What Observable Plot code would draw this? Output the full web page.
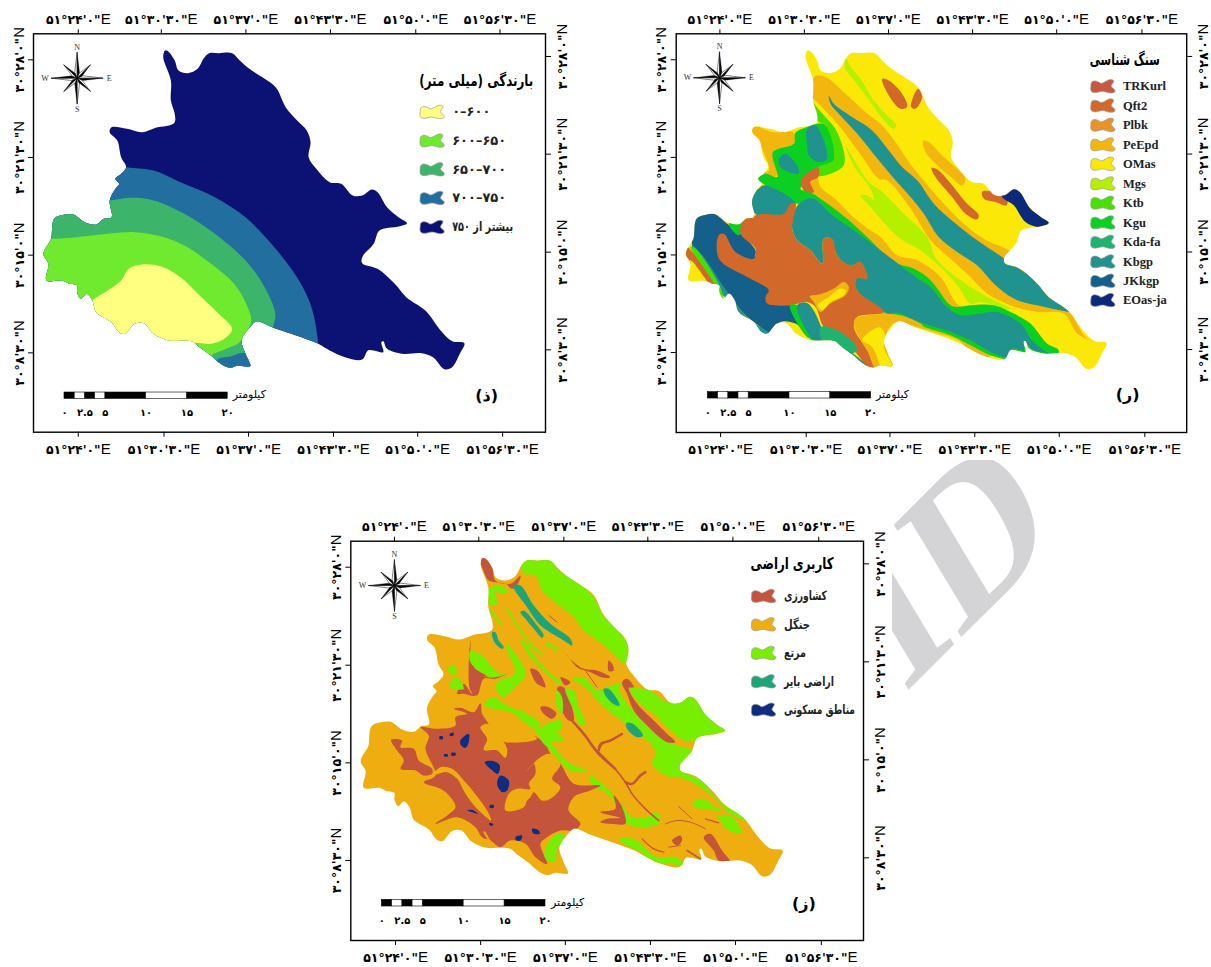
<!DOCTYPE html>
<html lang="fa"><head><meta charset="utf-8">
<script src="https://cdn.jsdelivr.net/npm/d3@7"></script>
<script src="https://cdn.jsdelivr.net/npm/@observablehq/plot@0.6"></script>
<style>
html,body{margin:0;padding:0;background:#fff;overflow:hidden}
#page{position:relative;width:1211px;height:967px;overflow:hidden}
#page>svg{position:absolute;z-index:1}
#mark{position:absolute;left:739px;top:630px;font:bold 200px "Liberation Serif";color:#d4d4d6;line-height:1;white-space:nowrap;transform-origin:0 0;transform:matrix(.707,-.707,.515,.857,0,0);z-index:0}
</style></head><body><div id="page"><div id="mark">SID</div></div>
<script>
// ---- graticule labels
const lonLabels=['۵۱°۲۴\'۰"E','۵۱°۳۰\'۳۰"E','۵۱°۳۷\'۰"E','۵۱°۴۳\'۳۰"E','۵۱°۵۰\'۰"E','۵۱°۵۶\'۳۰"E'];
const latLabels=['۳۰°۲۸\'۰"N','۳۰°۲۱\'۳۰"N','۳۰°۱۵\'۰"N','۳۰°۸\'۳۰"N'];
const kmBlack=[[0,1.25],[2.5,3.75],[5,10],[15,20]];
const kmWhite=[[1.25,2.5],[3.75,5],[10,15]];
const kmTicks=[0,2.5,5,10,15,20];
const kmLabels=['۰','۲.۵','۵','۱۰','۱۵','۲۰'];
const kmPerDegree=96;
const persianWidths={'بارندگی (میلی متر)':114,'سنگ شناسی':70,'کاربری اراضی':83,'کشاورزی':43,'جنگل':26,'مرتع':22,'اراضی بایر':50,'مناطق مسکونی':71,'بیشتر از ۷۵۰':61};

// ---- catchment outline, digitised positions on the first map
const outline=[430,150,440,155,455,180,465,210,490,218,515,205,530,175,545,158,570,158,605,158,625,180,650,205,690,235,720,262,745,320,775,360,800,390,810,425,805,470,825,505,860,545,890,550,920,585,945,585,970,567,985,575,1010,620,1040,650,1062,668,1040,678,990,690,975,730,945,770,945,788,985,805,1030,850,1060,890,1110,930,1150,990,1180,1022,1212,1028,1200,1060,1180,1100,1160,1106,1130,1070,1100,1058,1050,1060,1010,1045,1000,1022,995,1025,1000,1055,975,1050,960,1050,945,1077,900,1070,860,1050,830,1030,760,1000,710,980,670,962,655,975,630,1020,640,1060,652,1097,620,1095,600,1102,575,1090,550,1065,520,1040,500,1022,470,1020,440,1020,400,1000,375,968,350,970,325,1000,310,995,290,965,250,935,240,900,225,880,210,895,200,875,200,855,180,850,160,840,120,840,125,790,112,760,130,720,133,710,140,655,165,643,190,642,220,665,250,672,270,655,290,650,285,600,300,565,310,550,300,535,315,520,328,500,315,470,305,420,285,395,290,380,330,385,370,395,410,380,440,375,455,365,455,340,445,300,445,240,425,170];

// ---- rainfall classes
const rainClasses=['۰–۶۰۰','۶۰۰–۶۵۰','۶۵۰–۷۰۰','۷۰۰–۷۵۰','بیشتر از ۷۵۰'];
const rainColors=['#ffff80','#70ea2f','#3cb56b','#226e9f','#0c1274'];
const rainZones=[
 ['۷۰۰–۷۵۰',[328,500,400,510,470,545,560,590,640,650,700,720,750,790,790,860,815,930,830,1030,835,1160,100,1160,40,700,250,490]],
 ['۶۵۰–۷۰۰',[240,600,285,600,340,592,400,600,480,640,560,700,640,780,690,860,718,940,712,985,712,1160,100,1160,40,640]],
 ['۶۰۰–۶۵۰',[40,715,133,715,200,710,280,700,350,695,420,708,480,735,550,790,610,850,640,905,655,960,640,1000,625,1025,590,1045,550,1065,500,1120,60,1010]],
 ['۷۰۰–۷۵۰',[565,1078,600,1068,640,1058,680,1120,560,1130]],
 ['۰–۶۰۰',[240,900,280,870,315,840,335,805,370,792,420,798,470,830,520,885,570,940,605,985,590,1010,550,1030,500,1028,440,1060,300,1060,200,960]]
];

// ---- rock units (N, E, W: digitised north, east and west parts of the second map)
const rockClasses=['TRKurl','Qft2','Plbk','PeEpd','OMas','Mgs','Ktb','Kgu','Kda-fa','Kbgp','JKkgp','EOas-ja'];
const rockColors=['#c8583f','#d2692b','#e8922a','#f2b60f','#fbe806','#b4f000','#48e000','#0ccf24','#1fb36f','#21938f','#14608a','#0b2a7c'];
const rockZones=[
 ['PeEpd',[195,130,210,92,240,95,300,145,360,200,410,240,450,290,490,350,530,400,590,470,655,535,715,580,800,620,900,700,1010,780,985,800,1020,875,1045,890,995,865,955,805,875,800,795,780,725,745,675,695,620,645,555,585,515,520,485,475,425,405,400,400,340,320,280,240,225,180,200,155],'N'],
 ['Kbgp',[250,150,265,175,320,215,380,255,430,315,470,365,515,405,565,475,625,530,695,585,770,635,850,690,1010,790,995,800,875,780,805,760,745,715,695,660,635,620,580,575,535,505,495,455,450,405,400,345,340,270,280,205,255,175],'N'],
 ['Mgs',[300,300,330,350,370,410,405,435,475,505,545,575,575,645,645,705,725,755,795,790,790,792,705,770,675,775,640,725,595,675,525,615,465,580,405,520,370,480,345,450,365,450,385,465,375,430,330,370,310,330],'N'],
 ['Mgs',[300,40,320,70,345,100,385,165,420,205,452,240,445,250,415,225,375,170,330,110,300,70],'N'],
 ['Qft2',[410,100,430,105,470,145,485,185,465,190,430,150],'N'],
 ['Qft2',[518,130,530,155,510,190,497,185,505,150],'N'],
 ['PeEpd',[533,285,550,290,590,330,640,375,660,400,650,420,610,390,565,350,540,320],'N'],
 ['Qft2',[558,368,575,372,620,420,660,470,700,510,695,522,660,505,620,455,570,395],'N'],
 ['Qft2',[305,35,325,32,380,55,378,75,345,65,310,55],'E'],
 ['EOas-ja',[365,48,400,24,425,40,450,85,505,125,490,140,470,140,435,125,400,75],'E'],
 ['PeEpd',[195,415,215,395,225,425,270,462,320,512,370,552,405,575,455,630,515,645,585,695,640,780,685,785,640,800,500,700,400,640,300,540,200,450],'N'],
 ['PeEpd',[20,255,30,243,80,260,145,262,145,295,85,318,95,390,70,395,55,385,70,375,50,310],'N'],
 ['Ktb',[198,158,210,180,240,215,275,260,295,360,215,392,220,365,265,345,240,240,215,225],'N'],
 ['Kgu',[38,400,60,385,95,395,82,320,145,295,150,262,185,245,215,235,240,240,265,345,220,365,215,385,165,430,190,445,200,460,150,475,120,455,60,420],'N'],
 ['Kbgp',[185,250,210,240,245,340,220,350,190,330,185,300],'N'],
 ['Kbgp',[100,340,120,325,160,370,160,385,130,380,105,365],'N'],
 ['Qft2',[165,410,190,380,220,368,218,395,195,410,205,440,180,440],'N'],
 ['Kbgp',[20,470,45,425,60,420,150,475,130,500,60,520,25,500],'N'],
 ['Kbgp',[225,0,270,0,330,40,310,75,240,75,215,40],'W'],
 ['PeEpd',[0,395,50,405,130,440,210,458,280,492,335,525,290,530,230,478,170,458,100,438,55,425,0,440],'E'],
 ['Kgu',[330,0,385,5,420,25,500,85,560,140,640,215,700,235,750,270,810,345,830,350,870,345,940,345,1000,370,1050,400,1100,460,1135,480,1130,495,1000,510,930,495,870,465,810,435,730,410,660,385,610,365,530,300,420,100],'W'],
 ['Kbgp',[345,55,370,30,400,25,450,70,520,120,600,180,720,270,750,290,800,350,840,375,900,370,950,365,1020,400,1055,450,1100,485,1130,490,1060,480,1030,450,1030,480,995,475,980,500,940,490,870,450,810,425,730,400,690,385,660,370,610,365,530,300,530,265,560,265,540,215,510,225,470,195,455,145,430,145,425,220,390,180,350,150,335,115],'W'],
 ['JKkgp',[45,85,60,72,100,70,140,100,180,130,225,180,225,200,260,290,330,345,370,420,345,400,300,395,270,430,240,410,190,370,150,320,120,290,70,230,35,165],'W'],
 ['Kbgp',[35,165,70,200,130,290,200,380,280,440,240,440,170,360,115,300,40,190],'W'],
 ['Ktb',[30,170,45,175,125,305,125,325,105,300,50,210],'W'],
 ['Qft2',[20,170,35,185,115,310,110,318,55,260,15,195],'W'],
 ['OMas',[28,210,60,245,85,290,20,280],'W'],
 ['Kgu',[145,100,190,90,175,135],'W'],
 ['Qft2',[190,90,240,72,310,70,330,40,345,40,335,115,350,150,390,180,425,220,430,145,455,145,470,195,510,225,540,215,560,265,530,265,530,300,610,365,530,380,520,410,560,480,590,535,570,535,510,470,430,410,405,350,380,335,330,345,260,340,255,320,265,300,200,260,115,205,115,135,130,130,165,185,220,205,225,175,180,130],'W'],
 ['Kgu',[328,345,350,345,400,450,375,435],'W'],
 ['Kbgp',[350,345,380,338,420,405,425,452,400,450],'W'],
 ['Kda-fa',[420,410,470,420,530,475,515,490,460,455,425,450],'W'],
 ['Kbgp',[425,450,515,488,570,540,540,535,470,480],'W'],
 ['PeEpd',[388,318,420,312,460,295,490,275,505,290,495,315,450,340,420,365,400,335],'W'],
 ['OMas',[412,345,445,320,480,295,495,300,490,315,450,335,425,360],'W'],
 ['PeEpd',[525,385,600,372,660,375,720,400,730,410,650,390,612,450,640,540,590,540,560,480,522,410],'W'],
 ['OMas',[575,420,600,412,615,440,610,470,640,540,610,540,575,470,545,450],'W']
];

// ---- land use (A, B, C: digitised south-west, north and south-east parts of the third map)
const landClasses=['کشاورزی','جنگل','مرتع','اراضی بایر','مناطق مسکونی'];
const landColors=['#c4553b','#eeae10','#78ee00','#1ea577','#0e2d80'];
const landZones=[
 ['مرتع',[150,45,170,20,200,30,240,20,265,60,320,95,370,140,395,190,440,240,480,290,465,340,440,320,395,280,340,240,310,200,260,160,215,120,195,75,165,70],'B'],
 ['مرتع',[305,385,345,385,380,420,440,400,490,410,540,420,590,455,650,440,680,455,730,520,725,560,670,570,665,610,630,655,600,680,555,640,555,600,480,530,400,470,345,410],'B'],
 ['مرتع',[290,45,330,60,410,150,360,160,320,175,305,200,265,262,185,250,200,220,250,190,290,130],'C'],
 ['مرتع',[185,250,265,262,290,280,340,305,365,340,410,375,475,405,470,420,420,400,380,360,330,320,280,295,210,275],'C'],
 ['جنگل',[445,410,465,400,490,440,520,470,550,490,590,530,640,570,672,572,670,592,620,585,570,550,520,510,480,470],'B'],
 ['مرتع',[0,285,30,305,70,345,100,380,125,410,170,410,195,395,210,410,205,430,165,440,110,430,95,400,50,340,20,320,0,305],'C'],
 ['کشاورزی',[180,200,230,205,285,195,285,170,320,160,280,145,300,142,340,155,360,128,365,160,385,195,360,200,440,245,530,235,520,225,555,250,570,280,600,310,640,370,720,375,690,390,640,410,625,450,660,490,640,510,600,510,560,530,540,550,560,610,525,590,495,550,450,540,420,560,390,540,365,530,345,500,290,470,225,490,260,465,285,440,270,410,240,385,190,365,225,345,195,265,205,225],'A'],
 ['کشاورزی',[92,238,125,240,120,260,160,265,175,300,215,325,215,340,190,345,165,330,120,325,130,300,110,270],'A'],
 ['جنگل',[215,345,240,320,275,325,310,360,340,395,380,450,392,480,350,445,315,400,290,355,260,335,235,340],'A'],
 ['جنگل',[360,200,380,235,370,268,410,270,435,292,440,265,415,218,435,245,445,245,385,190],'A'],
 ['جنگل',[495,335,520,310,525,340,505,370,510,385,470,385,445,400,435,450,490,440,500,420,510,410,520,395,545,420,570,415,600,380,575,355,600,310,570,280,540,290],'A'],
 ['جنگل',[625,450,640,410,690,395,720,390,720,470,690,485,670,465,680,430,660,430],'A'],
 ['کشاورزی',[30,30,40,18,65,50,75,90,120,100,150,75,145,95,125,115,105,100,75,95,55,90,35,50],'B'],
 ['کشاورزی',[0,270,5,335,35,375,75,380,110,370,75,385,40,385,20,435,0,420],'B'],
 ['کشاورزی',[290,100,310,70,335,100,340,60,330,25,365,35,380,45,440,40,395,50,365,50,345,105,310,100],'A'],
 ['کشاورزی',[275,300,310,335,340,355,380,360,420,380,400,382,360,365,320,350,295,320],'B'],
 ['کشاورزی',[415,330,425,340,430,360,415,362],'B'],
 ['کشاورزی',[180,355,200,360,215,380,225,410,200,400,185,375],'B'],
 ['کشاورزی',[270,380,300,395,285,405],'B'],
 ['کشاورزی',[210,470,235,470,258,490,245,505,220,490],'B'],
 ['کشاورزی',[262,410,280,410,310,510,295,510,270,470],'B'],
 ['کشاورزی',[455,395,470,385,490,410,475,412,500,460,550,510,590,550,615,575,590,575,530,525,490,480,470,430],'B'],
 ['کشاورزی',[340,470,360,460,395,510,420,545,385,540,370,510],'C'],
 ['کشاورزی',[245,480,270,465,275,480,260,495],'C'],
 ['کشاورزی',[70,345,90,370,105,410,105,430,60,430,30,425,50,415,90,412,30,395,75,385],'C'],
 ['مرتع',[55,115,85,105,115,125,100,130,75,125,80,160,65,165,50,150],'B'],
 ['مرتع',[110,280,135,310,165,370,130,415,95,440,75,400,120,385,135,360,110,300],'B'],
 ['مرتع',[0,300,40,320,65,350,90,375,40,370,0,335],'B'],
 ['مرتع',[45,455,70,440,100,460,140,480,185,505,210,530,215,555,190,525,130,490,80,465],'B'],
 ['مرتع',[215,530,270,510,275,530,240,560,260,600,300,640,350,660,300,660,240,600,210,565],'B'],
 ['مرتع',[285,415,310,420,325,470,345,520,330,525,310,480],'B'],
 ['مرتع',[260,420,275,440,275,490,260,470],'B'],
 ['مرتع',[260,25,285,15,285,45,270,40],'A'],
 ['مرتع',[265,75,290,50,310,85,280,85],'A'],
 ['مرتع',[405,75,430,55,460,45,480,5,495,40,470,70,430,110,420,95],'A'],
 ['مرتع',[330,0,370,20,380,40,440,40,385,50,355,20],'A'],
 ['مرتع',[370,130,410,125,450,145,480,150,540,190,515,200,460,160,430,150,380,140],'A'],
 ['مرتع',[520,205,550,205,570,185,600,180,590,210,610,240,560,240,530,220],'A'],
 ['مرتع',[555,565,590,520,620,530,590,565,585,605,555,595],'A'],
 ['مرتع',[310,360,345,358,375,380,390,380,385,392,350,385,310,380],'C'],
 ['مرتع',[380,410,420,405,455,460,400,440,395,425],'C'],
 ['مرتع',[85,475,130,475,165,505,200,530,260,530,280,555,240,550,190,545,150,515,100,490],'C'],
 ['اراضی بایر',[128,105,150,105,190,165,240,220,300,265,305,285,280,270,255,255,210,225,170,170],'B'],
 ['اراضی بایر',[150,185,160,180,200,225,220,255,215,262,190,235,165,205],'B'],
 ['اراضی بایر',[65,245,75,245,85,270,100,290,95,295,72,275],'B'],
 ['اراضی بایر',[400,415,415,415,448,465,432,462,405,435],'B'],
 ['اراضی بایر',[467,518,485,518,518,555,500,560,470,535],'B'],
 ['مناطق مسکونی',[300,240,325,220,325,245,315,262,302,255],'A'],
 ['مناطق مسکونی',[373,305,400,302,418,315,412,340,390,325],'A'],
 ['مناطق مسکونی',[410,370,420,345,445,360,440,390,425,395],'A'],
 ['مناطق مسکونی',[237,228,247,228,247,236,237,236],'A'],
 ['مناطق مسکونی',[268,220,280,217,278,226,268,226],'A'],
 ['مناطق مسکونی',[250,282,262,282,262,288,252,288],'A'],
 ['مناطق مسکونی',[273,277,285,277,285,285,273,285],'A'],
 ['مناطق مسکونی',[320,450,335,448,352,460,335,455],'A'],
 ['مناطق مسکونی',[388,434,400,434,400,442,388,442],'A'],
 ['مناطق مسکونی',[386,488,398,490,396,496,388,494],'A'],
 ['مناطق مسکونی',[465,530,485,525,480,540,468,540],'A'],
 ['مناطق مسکونی',[515,505,535,510,538,520,518,518],'A']
];
const landStreams=[
 ['مرتع',2,[110,175,150,240,190,290,215,310],'B'],
 ['مرتع',3,[155,270,185,320,230,365,270,400],'B'],
 ['مرتع',1.5,[170,280,205,340,250,385],'B'],
 ['مرتع',3,[230,280,260,295],'B'],
 ['مرتع',2,[60,180,90,220],'B'],
 ['جنگل',2,[372,515,395,555],'A'],
 ['کشاورزی',2.5,[295,500,340,550,385,610,435,655],'B'],
 ['کشاورزی',2,[385,600,390,580,420,570,455,550],'B'],
 ['کشاورزی',1,[345,360,380,410],'B'],
 ['کشاورزی',1,[235,195,260,215],'B'],
 ['کشاورزی',1.6,[0,190,30,220,70,260,105,305,125,340,165,385,205,420],'C'],
 ['کشاورزی',2,[25,210,35,190,60,180,95,160],'C'],
 ['کشاورزی',2.5,[105,305,125,310,150,285,165,275],'C'],
 ['کشاورزی',1,[225,430,260,420,300,425,345,445],'C'],
 ['کشاورزی',1,[265,378,305,415],'C'],
 ['کشاورزی',1.2,[345,415,385,427],'C'],
 ['کشاورزی',1.3,[155,475,190,505,220,515],'C'],
 ['کشاورزی',1,[235,500,270,495],'C'],
 ['کشاورزی',1.6,[290,510,330,535],'C']
];

// ---- placing the digitised positions on the graticule
const STEP=6.5/60, LON0=51.4, LAT0=30+28/60;
const cal=(x0,dx,y0,dy)=>({lon:z=>LON0+(z-x0)/dx*STEP,lat:z=>LAT0-(z-y0)/dy*STEP});
const pairs=a=>d3.range(0,a.length,2).map(i=>[a[i],a[i+1]]);

const cal1=cal(203,221.8,178,293);
const outlineGeo=pairs(outline).map(([x,y])=>({lon:cal1.lon(x),lat:cal1.lat(y)}));

function blob(ctx,size){
 const s=Math.sqrt(size/Math.PI);
 const P=(x,y)=>[x*s,y*s*.75];
 ctx.moveTo(...P(-1,-.2));
 ctx.bezierCurveTo(...P(-1,-.75),...P(-.5,-.7),...P(-.2,-.35));
 ctx.bezierCurveTo(...P(.1,-.3),...P(.5,-1),...P(.85,-.7));
 ctx.bezierCurveTo(...P(1,-.5),...P(.65,-.2),...P(.7,0));
 ctx.bezierCurveTo(...P(.75,.2),...P(1.05,.3),...P(1,.55));
 ctx.bezierCurveTo(...P(.9,.85),...P(.4,.7),...P(.1,.55));
 ctx.bezierCurveTo(...P(-.2,.45),...P(-.5,.8),...P(-.85,.65));
 ctx.bezierCurveTo(...P(-1.1,.5),...P(-1,.1),...P(-1,-.2));
 ctx.closePath();
}
const starPart=(side)=>({draw(ctx,size){
 const R=Math.sqrt(size/Math.PI),r=R*.2;
 for(const i of [1,3,5,7,0,2,4,6]){
  const a=i*Math.PI/4-Math.PI/2,L=i%2?R*.73:R,b=a+side*Math.PI/8;
  ctx.moveTo(0,0);
  ctx.lineTo(L*Math.cos(a),L*Math.sin(a));
  ctx.lineTo(r*Math.cos(b)*(i%2?1:1.2),r*Math.sin(b)*(i%2?1:1.2));
  ctx.closePath();
 }
}});

const NS="http://www.w3.org/2000/svg";
function panel(o){
 const c=o.cal;
 const geoPts=(a,key)=>{const k=key?o.crops[key]:c;return pairs(a).map(([x,y])=>({lon:k.lon(x),lat:k.lat(y)}));};
 const zones=o.zones.flatMap(([cat,pts,key],id)=>geoPts(pts,key).map(p=>({...p,cat,id})));
 const streams=(o.streams||[]).map(([cat,w,pts,key])=>({cat,w,pts:geoPts(pts,key)}));
 const legend=o.classes.map((t,i)=>({t,lon:c.lon(o.legX),lat:c.lat(o.legY[i]),tlon:c.lon(o.legTX)}));
 const yBar=[c.lat(o.barY[0]),c.lat(o.barY[1])];
 const kmLon=k=>c.lon(o.barX)+k/kmPerDegree;
 const segs=a=>a.map(([p,q])=>({x1:kmLon(p),x2:kmLon(q)}));
 const barMark=(a,fill)=>Plot.rect(segs(a),{x1:"x1",x2:"x2",y1:()=>yBar[0],y2:()=>yBar[1],fill,stroke:"#000",strokeWidth:.6});
 const compass=[{lon:c.lon(o.comp[0]),lat:c.lat(o.comp[1])}];
 const cx=compass[0].lon,cy=compass[0].lat;
 const tickFmt=(arr,labs)=>d=>labs[arr.indexOf(d)];
 const tb=o.ticksB.map(c.lon),tt=o.ticksT.map(c.lon),tl=o.ticksL.map(c.lat),tr=o.ticksR.map(c.lat);
 const sans='"Liberation Sans","DejaVu Sans"',arab='"DejaVu Sans"',serif='"Liberation Serif","DejaVu Serif"';
 const one=(zx,zy,text,opt)=>Plot.text([{text}],{x:()=>c.lon(zx),y:()=>c.lat(zy),text:"text",...opt});
 const plot=Plot.plot({
  width:o.w,height:o.h,marginLeft:o.m[0],marginRight:o.m[1],marginTop:o.m[2],marginBottom:o.m[3],
  x:{domain:[c.lon(o.frame[0]),c.lon(o.frame[1])],axis:null},
  y:{domain:[c.lat(o.frame[3]),c.lat(o.frame[2])],axis:null},
  color:{type:"ordinal",domain:o.classes,range:o.colors},
  style:{background:"#fff",fontFamily:sans,overflow:"visible"},
  marks:[
   Plot.line(outlineGeo.map(p=>({...p,cat:o.base})),{x:"lon",y:"lat",fill:"cat",stroke:"none",curve:"catmull-rom-closed"}),
   Plot.line(zones,{x:"lon",y:"lat",z:"id",fill:"cat",stroke:"none",curve:"catmull-rom-closed"}),
   ...streams.map(s=>Plot.line(s.pts.map(p=>({...p,cat:s.cat})),{x:"lon",y:"lat",stroke:"cat",strokeWidth:s.w,curve:"catmull-rom"})),
   Plot.frame({stroke:"#000",strokeWidth:1.4}),
   Plot.axisX({anchor:"bottom",ticks:tb,tickFormat:tickFmt(tb,lonLabels),tickSize:5,tickPadding:6,fontSize:15,label:null}),
   Plot.axisX({anchor:"top",ticks:tt,tickFormat:tickFmt(tt,lonLabels),tickSize:5,tickPadding:5,fontSize:15,label:null}),
   Plot.axisY({anchor:"left",ticks:tl,tickFormat:tickFmt(tl,latLabels),tickSize:5,tickPadding:5,tickRotate:-90,fontSize:15,label:null}),
   Plot.axisY({anchor:"right",ticks:tr,tickFormat:tickFmt(tr,latLabels),tickSize:5,tickPadding:6,tickRotate:-90,lineAnchor:"top",fontSize:15,label:null}),
   Plot.dot(compass,{x:"lon",y:"lat",r:26,symbol:starPart(-1),fill:"#fff",stroke:"#000",strokeWidth:.5}),
   Plot.dot(compass,{x:"lon",y:"lat",r:26,symbol:starPart(1),fill:"#000",stroke:"#000",strokeWidth:.3}),
   ...[["N",0,-31],["S",0,31],["W",-32,0],["E",32,0]].map(([t,dx,dy])=>Plot.text([t],{x:()=>cx,y:()=>cy,text:d=>d,dx,dy,fontFamily:serif,fontSize:8,fill:"#333"})),
   barMark(kmBlack,"#000"),barMark(kmWhite,"#fff"),
   Plot.text(kmTicks,{x:kmLon,y:()=>c.lat(o.barLabelY),text:(d,i)=>kmLabels[i],fontFamily:arab,fontWeight:"bold",fontSize:10}),
   one(o.kmText[0],o.kmText[1],"کیلومتر",{fontFamily:arab,fontSize:11}),
   one(o.letter[0],o.letter[1],o.letterText,{fontFamily:arab,fontWeight:"bold",fontSize:16}),
   one(o.title[0],o.title[1],o.titleText,{fontFamily:arab,fontWeight:"bold",fontSize:16,textAnchor:"end"}),
   Plot.dot(legend,{x:"lon",y:"lat",r:12,symbol:{draw:blob},fill:"t",stroke:"#999",strokeWidth:.7}),
   Plot.text(legend,{x:"tlon",y:"lat",text:"t",textAnchor:"start",fontFamily:o.legFont,fontWeight:"bold",fontSize:o.legSize,fill:"#222"})
  ]
 });
 plot.style.left=o.left+"px";plot.style.top=o.top+"px";
 // keep every map layer inside the catchment outline
 const id="clip"+o.left;
 const lines=plot.querySelectorAll('g[aria-label="line"]');
 const cp=document.createElementNS(NS,"clipPath");cp.setAttribute("id",id);
 const pth=document.createElementNS(NS,"path");pth.setAttribute("d",lines[0].querySelector("path").getAttribute("d"));cp.appendChild(pth);plot.prepend(cp);
 lines.forEach((g,i)=>{if(i)g.setAttribute("clip-path",`url(#${id})`)});
 plot.querySelectorAll("text").forEach(t=>{const s=t.textContent;
  // graticule labels: bold digits, plain hemisphere letter
  if(s.includes("°")){t.textContent="";t.setAttribute("direction","ltr");
   const a=document.createElementNS(NS,"tspan");a.textContent=s.slice(0,-1);a.setAttribute("font-weight","bold");a.setAttribute("font-family",'"DejaVu Sans"');a.setAttribute("font-size","12.5");
   const b=document.createElementNS(NS,"tspan");b.textContent=s.slice(-1);t.append(a,b);}
  // the reference's Persian face is narrower than DejaVu
  if(persianWidths[s]){t.setAttribute("textLength",persianWidths[s]);t.setAttribute("lengthAdjust","spacingAndGlyphs");}
 });
 document.getElementById("page").appendChild(plot);
}

panel({left:0,top:0,w:600,h:470,m:[33,55,33.3,38.3],cal:cal1,frame:[86,1424,100,1295],
 ticksB:[203,427,648,870,1090,1312],ticksT:[203,420,641,862,1085,1305],ticksL:[178,471,764,1057],ticksR:[168,461,755,1048],
 base:'بیشتر از ۷۵۰',classes:rainClasses,colors:rainColors,zones:rainZones,
 legX:1128,legTX:1180,legY:[335,421,507,593,680],legFont:'"DejaVu Sans"',legSize:13,
 comp:[200,233],barX:167,barY:[1176,1195],barLabelY:1238,kmText:[650,1183],letter:[1270,1185],letterText:"(ذ)",
 title:[1392,240],titleText:"بارندگی (میلی متر)"});

panel({left:640,top:0,w:571,h:460,m:[35.7,24.8,33.3,28],cal:cal(220,233,178,293),frame:[98,1500,100,1297],
 crops:{N:cal(-74.7,254.6,43,293),E:cal(-479.7,254.6,-362,293),W:cal(120.3,254.6,-392,293)},
 ticksB:[220,455,685,918,1150,1385],ticksT:[218,450,681,912,1143,1377],ticksL:[178,471,764,1057],ticksR:[168,461,755,1048],
 base:'OMas',classes:rockClasses,colors:rockColors,zones:rockZones,
 legX:1270,legTX:1325,legY:[258,316,374,433,491,550,608,667,725,784,842,900],legFont:'"Liberation Serif"',legSize:12.5,
 comp:[217,232],barX:185,barY:[1176,1195],barLabelY:1238,kmText:[692,1183],letter:[1338,1185],letterText:"(ر)",
 title:[1426,178],titleText:"سنگ شناسی"});

panel({left:320,top:500,w:572,h:467,m:[30.3,29,40.7,27],cal:cal(203,230,200,293),frame:[82,1468,122,1320],
 crops:{A:cal(105.3,255.3,-280,293),B:cal(-224.7,255.3,50,293),C:cal(-584.7,255.3,-340,293)},
 ticksB:[203,433,662,892,1122,1354],ticksT:[200,428,658,885,1115,1347],ticksL:[200,494,787,1080],ticksR:[190,484,778,1072],
 base:'جنگل',classes:landClasses,colors:landColors,zones:landZones,streams:landStreams,
 legX:1198,legTX:1253,legY:[287,372,458,543,628],legFont:'"DejaVu Sans"',legSize:13,
 comp:[200,255],barX:166,barY:[1198,1218],barLabelY:1262,kmText:[668,1207],letter:[1307,1210],letterText:"(ز)",
 title:[1387,190],titleText:"کاربری اراضی"});
</script></body></html>
